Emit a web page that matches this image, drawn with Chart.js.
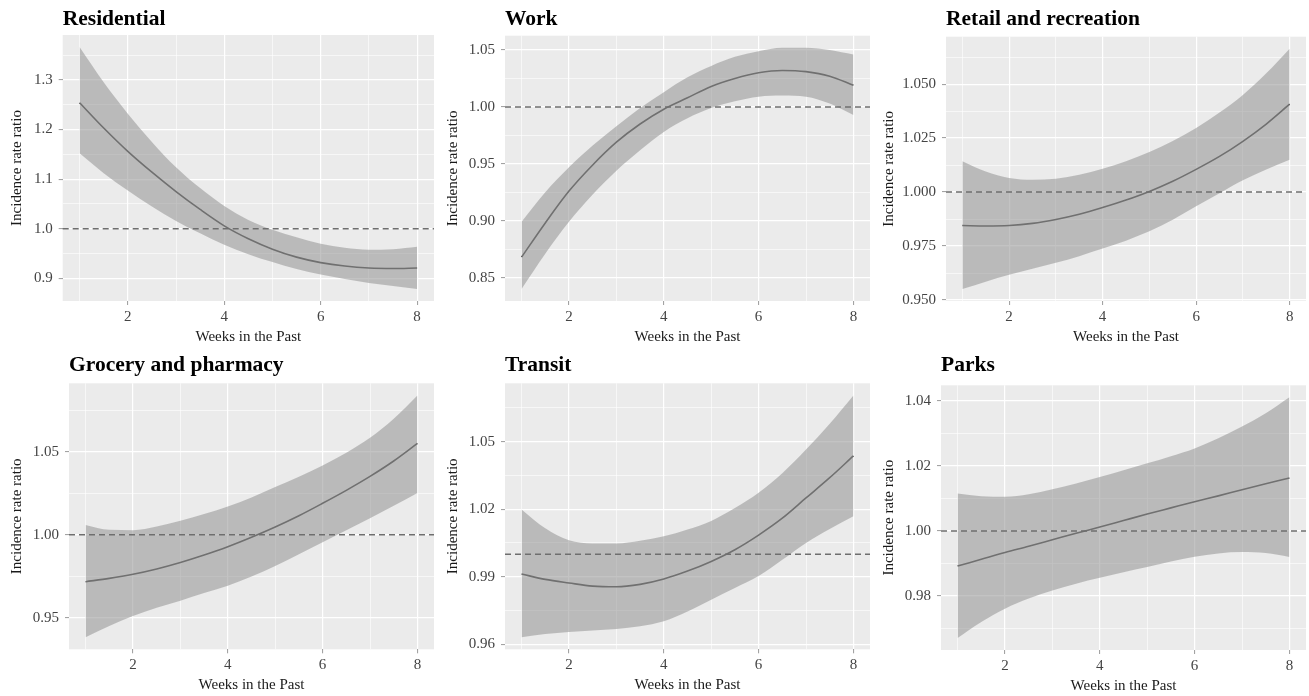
<!DOCTYPE html>
<html>
<head>
<meta charset="utf-8">
<script src="https://cdn.jsdelivr.net/npm/chart.js@4.4.1/dist/chart.umd.min.js"></script>
<style>
  html, body { margin: 0; padding: 0; background: #fff; }
  #wrap { position: relative; width: 1309px; height: 696px; overflow: hidden; }
  #wrap canvas { position: absolute; }
</style>
</head>
<body>
<div id="wrap"></div>
<script>
// weeks in the past (x values of the fitted curves)
const WEEKS = [1, 1.5, 2, 2.5, 3, 3.5, 4, 4.5, 5, 5.5, 6, 6.5, 7, 7.5, 8];
const WEEK_LABELS = ['2', '4', '6', '8'];
const REFERENCE_IRR = 1;

// Residential
const RESIDENTIAL_FIT = [1.254, 1.203, 1.156, 1.114, 1.075, 1.039, 1.006, 0.980, 0.959, 0.943, 0.932, 0.925, 0.921, 0.920, 0.921];
const RESIDENTIAL_UPPER = [1.366, 1.295, 1.232, 1.175, 1.124, 1.082, 1.046, 1.018, 0.998, 0.983, 0.970, 0.962, 0.958, 0.959, 0.964];
const RESIDENTIAL_LOWER = [1.152, 1.112, 1.077, 1.045, 1.016, 0.991, 0.968, 0.949, 0.933, 0.919, 0.908, 0.899, 0.891, 0.885, 0.879];
const RESIDENTIAL_Y_LABELS = ['0.9', '1.0', '1.1', '1.2', '1.3'];

// Work
const WORK_FIT = [0.868, 0.898, 0.926, 0.949, 0.969, 0.985, 0.998, 1.008, 1.018, 1.025, 1.030, 1.032, 1.031, 1.027, 1.019];
const WORK_UPPER = [0.899, 0.925, 0.947, 0.966, 0.983, 0.999, 1.013, 1.026, 1.036, 1.044, 1.049, 1.052, 1.052, 1.050, 1.046];
const WORK_LOWER = [0.840, 0.871, 0.899, 0.923, 0.944, 0.962, 0.978, 0.990, 0.999, 1.005, 1.009, 1.010, 1.009, 1.003, 0.993];
const WORK_Y_LABELS = ['0.85', '0.90', '0.95', '1.00', '1.05'];

// Retail and recreation
const RETAIL_FIT = [0.9845, 0.9843, 0.9845, 0.9855, 0.9873, 0.9897, 0.9928, 0.9963, 1.0003, 1.0050, 1.0105, 1.0165, 1.0235, 1.0315, 1.0407];
const RETAIL_UPPER = [1.0143, 1.0095, 1.0065, 1.0057, 1.0062, 1.0080, 1.0108, 1.0143, 1.0185, 1.0237, 1.0297, 1.0368, 1.0450, 1.0550, 1.0664];
const RETAIL_LOWER = [0.9551, 0.9585, 0.9617, 0.9645, 0.9672, 0.9703, 0.9738, 0.9775, 0.9818, 0.9872, 0.9934, 0.9995, 1.0055, 1.0105, 1.0150];
const RETAIL_Y_LABELS = ['0.950', '0.975', '1.000', '1.025', '1.050'];

// Grocery and pharmacy
const GROCERY_FIT = [0.9717, 0.9737, 0.9762, 0.9794, 0.9833, 0.9878, 0.9928, 0.9985, 1.0047, 1.0115, 1.0190, 1.0268, 1.0352, 1.0445, 1.0551];
const GROCERY_UPPER = [1.0059, 1.0030, 1.0028, 1.0050, 1.0085, 1.0125, 1.0170, 1.0225, 1.0288, 1.0350, 1.0418, 1.0495, 1.0585, 1.0700, 1.0841];
const GROCERY_LOWER = [0.9382, 0.9450, 0.9510, 0.9560, 0.9602, 0.9648, 0.9693, 0.9748, 0.9812, 0.9882, 0.9955, 1.0028, 1.0100, 1.0175, 1.0252];
const GROCERY_Y_LABELS = ['0.95', '1.00', '1.05'];

// Transit
const TRANSIT_FIT = [0.9912, 0.9888, 0.9872, 0.9858, 0.9855, 0.9866, 0.9890, 0.9925, 0.9968, 1.0020, 1.0085, 1.0160, 1.0250, 1.0340, 1.0437];
const TRANSIT_UPPER = [1.0199, 1.0115, 1.0062, 1.0048, 1.0048, 1.0060, 1.0080, 1.0110, 1.0148, 1.0205, 1.0273, 1.0360, 1.0465, 1.0580, 1.0706];
const TRANSIT_LOWER = [0.9631, 0.9645, 0.9654, 0.9661, 0.9668, 0.9680, 0.9702, 0.9745, 0.9798, 0.9850, 0.9903, 0.9975, 1.0050, 1.0112, 1.0169];
const TRANSIT_Y_LABELS = ['0.96', '0.99', '1.02', '1.05'];

// Parks
const PARKS_FIT = [0.9892, 0.9913, 0.9934, 0.9953, 0.9973, 0.9993, 1.0012, 1.0032, 1.0052, 1.0071, 1.0090, 1.0108, 1.0127, 1.0145, 1.0163];
const PARKS_UPPER = [1.0115, 1.0107, 1.0105, 1.0113, 1.0128, 1.0146, 1.0166, 1.0187, 1.0208, 1.0230, 1.0254, 1.0285, 1.0321, 1.0362, 1.0411];
const PARKS_LOWER = [0.9671, 0.9720, 0.9761, 0.9792, 0.9817, 0.9838, 0.9856, 0.9873, 0.9889, 0.9906, 0.9921, 0.9931, 0.9935, 0.9932, 0.9920];
const PARKS_Y_LABELS = ['0.98', '1.00', '1.02', '1.04'];

const FONT = "'Liberation Serif', 'Times New Roman', serif";

// cell = canvas box on the page, plot = wanted panel area inside the cell
const panels = [
  { title: 'Residential', fit: RESIDENTIAL_FIT, upper: RESIDENTIAL_UPPER, lower: RESIDENTIAL_LOWER, yLabels: RESIDENTIAL_Y_LABELS,
    cell: { left: 0, top: 0, w: 436, h: 346 }, plot: { left: 62.7, right: 434, top: 35, bottom: 301.7 } },
  { title: 'Work', fit: WORK_FIT, upper: WORK_UPPER, lower: WORK_LOWER, yLabels: WORK_Y_LABELS,
    cell: { left: 436, top: 0, w: 436, h: 346 }, plot: { left: 69, right: 434, top: 35.7, bottom: 301.7 } },
  { title: 'Retail and recreation', fit: RETAIL_FIT, upper: RETAIL_UPPER, lower: RETAIL_LOWER, yLabels: RETAIL_Y_LABELS,
    cell: { left: 872, top: 0, w: 437, h: 346 }, plot: { left: 74, right: 434, top: 36.7, bottom: 301.7 } },
  { title: 'Grocery and pharmacy', fit: GROCERY_FIT, upper: GROCERY_UPPER, lower: GROCERY_LOWER, yLabels: GROCERY_Y_LABELS,
    cell: { left: 0, top: 346, w: 436, h: 350 }, plot: { left: 69, right: 434, top: 37.3, bottom: 303.3 } },
  { title: 'Transit', fit: TRANSIT_FIT, upper: TRANSIT_UPPER, lower: TRANSIT_LOWER, yLabels: TRANSIT_Y_LABELS,
    cell: { left: 436, top: 346, w: 436, h: 350 }, plot: { left: 69, right: 434, top: 37.3, bottom: 303.3 } },
  { title: 'Parks', fit: PARKS_FIT, upper: PARKS_UPPER, lower: PARKS_LOWER, yLabels: PARKS_Y_LABELS,
    cell: { left: 872, top: 346, w: 437, h: 350 }, plot: { left: 69, right: 434, top: 39.3, bottom: 304 } },
];

const X_AXIS_H = 45;
const PAD_LEFT = 8;
const TITLE_SIZE = 21.5;
const TITLE_LINE = TITLE_SIZE * 1.2;
const TITLE_PAD_TOP = 6.5;

// ggplot-like expanded range (5% each side)
function expand(values) {
  const lo = Math.min(...values), hi = Math.max(...values);
  const d = (hi - lo) * 0.05;
  return { min: lo - d, max: hi + d };
}

// major ticks from labels, minor ticks half way between
function buildTicks(labels, min, max) {
  const majors = labels.map(Number);
  const step = majors[1] - majors[0];
  const out = labels.map((t, i) => ({ value: majors[i], minor: false, text: t }));
  for (let k = 0; k <= majors.length; k++) {
    const v = majors[0] - step / 2 + k * step;
    if (v >= min && v <= max) out.push({ value: v, minor: true, text: '' });
  }
  return out.sort((a, b) => a.value - b.value);
}

const panelBackground = {
  id: 'panelBackground',
  beforeDraw(chart) {
    const { ctx, chartArea: a } = chart;
    ctx.save();
    ctx.fillStyle = '#EBEBEB';
    ctx.fillRect(a.left, a.top, a.right - a.left, a.bottom - a.top);
    ctx.restore();
  },
};

const referenceLine = {
  id: 'referenceLine',
  afterDatasetsDraw(chart) {
    const { ctx, chartArea: a } = chart;
    const y = chart.scales.y.getPixelForValue(REFERENCE_IRR);
    ctx.save();
    ctx.strokeStyle = '#6E6E6E';
    ctx.lineWidth = 1.5;
    ctx.setLineDash([6, 4]);
    ctx.beginPath();
    ctx.moveTo(a.left, y);
    ctx.lineTo(a.right, y);
    ctx.stroke();
    ctx.restore();
  },
};

function gridWidth(c) { return c.tick && c.tick.minor ? 0.6 : 1.2; }
function tickColor(c) { return c.tick && c.tick.minor ? 'rgba(0,0,0,0)' : '#9A9A9A'; }

const wrap = document.getElementById('wrap');
const xRange = expand(WEEKS);

panels.forEach((p) => {
  const canvas = document.createElement('canvas');
  canvas.width = p.cell.w;
  canvas.height = p.cell.h;
  canvas.style.left = p.cell.left + 'px';
  canvas.style.top = p.cell.top + 'px';
  canvas.style.width = p.cell.w + 'px';
  canvas.style.height = p.cell.h + 'px';
  wrap.appendChild(canvas);

  const yRange = expand(p.upper.concat(p.lower));
  const yTicks = buildTicks(p.yLabels, yRange.min, yRange.max);
  const xTicks = buildTicks(WEEK_LABELS, xRange.min, xRange.max);
  const pts = (arr) => WEEKS.map((w, i) => ({ x: w, y: arr[i] }));

  new Chart(canvas.getContext('2d'), {
    type: 'line',
    data: {
      datasets: [
        { data: pts(p.lower), borderWidth: 0, borderColor: 'rgba(0,0,0,0)', pointRadius: 0, fill: false, cubicInterpolationMode: 'monotone' },
        { data: pts(p.upper), borderWidth: 0, borderColor: 'rgba(0,0,0,0)', pointRadius: 0, fill: '-1',
          backgroundColor: 'rgba(150,150,150,0.57)', cubicInterpolationMode: 'monotone' },
        { data: pts(p.fit), borderWidth: 1.6, borderColor: '#3F3F3F', pointRadius: 0, fill: false, cubicInterpolationMode: 'monotone' },
      ],
    },
    options: {
      responsive: false,
      animation: false,
      events: [],
      layout: {
        padding: {
          left: PAD_LEFT,
          right: p.cell.w - p.plot.right,
          top: 0,
          bottom: Math.max(0, p.cell.h - p.plot.bottom - X_AXIS_H),
        },
      },
      plugins: {
        legend: { display: false },
        tooltip: { enabled: false },
        title: {
          display: true,
          text: p.title,
          align: 'start',
          fullSize: false,
          color: '#000',
          font: { family: FONT, size: TITLE_SIZE, weight: 'bold', lineHeight: 1.2 },
          padding: { top: TITLE_PAD_TOP, bottom: p.plot.top - TITLE_PAD_TOP - TITLE_LINE },
        },
      },
      scales: {
        x: {
          type: 'linear',
          min: xRange.min,
          max: xRange.max,
          afterBuildTicks: (s) => { s.ticks = xTicks.map((t) => ({ ...t })); },
          afterFit: (s) => { s.height = X_AXIS_H; },
          ticks: {
            autoSkip: false,
            maxRotation: 0,
            padding: 3,
            color: '#444444',
            font: { family: FONT, size: 15 },
            callback: (v, i, ticks) => ticks[i].text,
          },
          grid: { color: '#FFFFFF', lineWidth: gridWidth, tickColor: tickColor, tickLength: 4, tickWidth: 1 },
          border: { display: false },
          title: { display: true, text: 'Weeks in the Past', color: '#1A1A1A', font: { family: FONT, size: 15 }, padding: { top: 0, bottom: 0 } },
        },
        y: {
          type: 'linear',
          min: yRange.min,
          max: yRange.max,
          afterBuildTicks: (s) => { s.ticks = yTicks.map((t) => ({ ...t })); },
          afterFit: (s) => { s.width = p.plot.left - PAD_LEFT; },
          ticks: {
            autoSkip: false,
            padding: 6,
            color: '#444444',
            font: { family: FONT, size: 15 },
            callback: (v, i, ticks) => ticks[i].text,
          },
          grid: { color: '#FFFFFF', lineWidth: gridWidth, tickColor: tickColor, tickLength: 4, tickWidth: 1 },
          border: { display: false },
          title: { display: true, text: 'Incidence rate ratio', color: '#1A1A1A', font: { family: FONT, size: 15 }, padding: { top: 0, bottom: 0 } },
        },
      },
    },
    plugins: [panelBackground, referenceLine],
  });
});
</script>
</body>
</html>
